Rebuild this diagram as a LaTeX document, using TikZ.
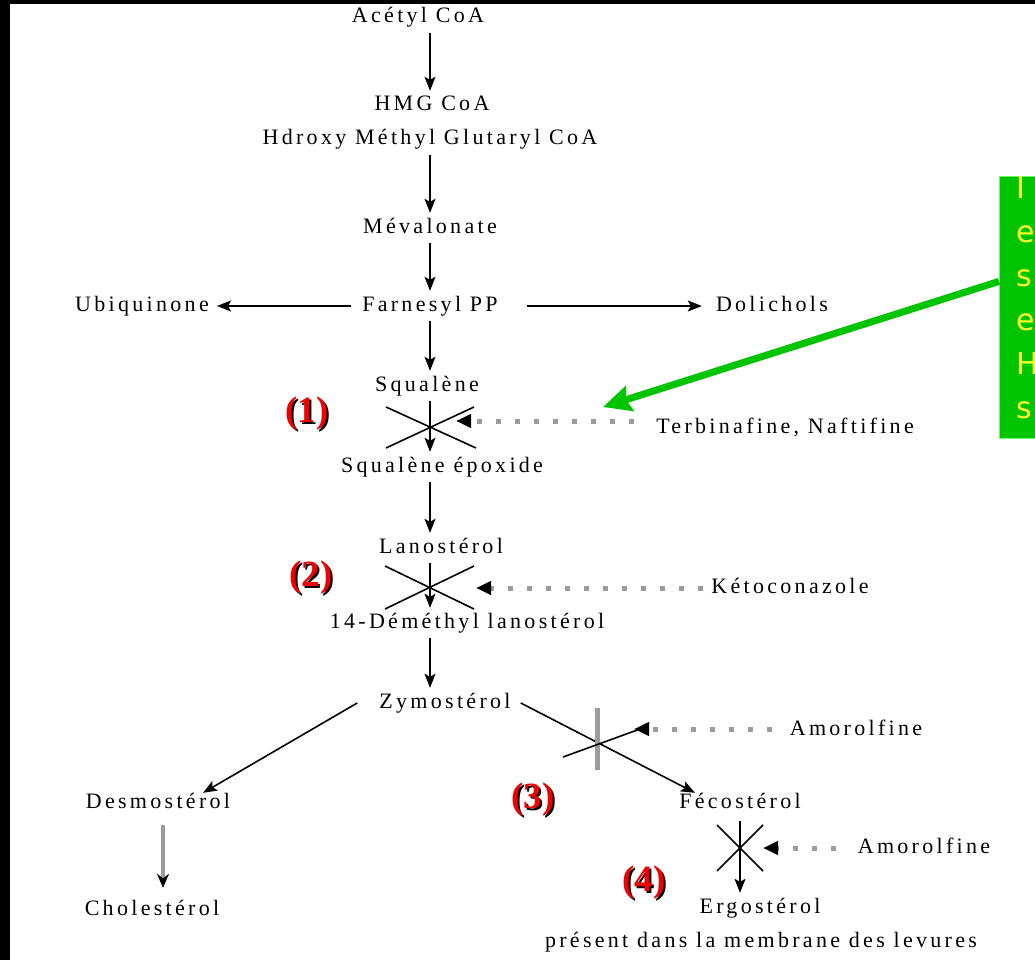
\documentclass[tikz,border=0pt]{standalone}
\usepackage{fontspec}
\setmainfont{Liberation Serif}[LetterSpace=15]
\newfontfamily\numfont{Liberation Serif}
\newfontfamily\notefont{DejaVu Sans}
\usepackage{tikz}
\usetikzlibrary{arrows.meta,positioning}
\definecolor{boxgreen}{RGB}{0,196,0}
\definecolor{numred}{RGB}{240,0,0}
\definecolor{dotgray}{RGB}{155,155,155}
\definecolor{noteyellow}{RGB}{255,255,40}

\begin{document}
\begin{tikzpicture}[x=1pt,y=-1pt,
    mol/.style={font=\fontsize{22}{25}\selectfont, inner sep=0pt, text height=15pt, text depth=5pt},
    arr/.style={line width=1.6pt, shorten <=5pt, shorten >=5pt, -{Stealth[length=14pt,width=11pt,inset=3pt]}},
    cut/.style={line width=1.6pt},
    inhib/.style={draw=dotgray, line width=5pt, dash pattern=on 5pt off 14pt, -{Triangle[length=15pt,width=13pt,color=black]}},
    grayarr/.style={draw=dotgray, line width=4pt, shorten <=12pt, shorten >=12pt, -{Stealth[length=14pt,width=12pt,color=black]}},
    num/.style={font=\numfont\bfseries\fontsize{37}{40}\selectfont, inner sep=0pt},
    notebox/.style={fill=boxgreen, draw=green!60!white, line width=0.8pt, minimum width=50pt, minimum height=262pt, inner sep=0pt},
    greenarr/.style={draw=boxgreen, line width=7pt, -{Stealth[length=28pt,width=26pt,inset=4pt]}}]
    \useasboundingbox (0,0) rectangle (1035,960);
    \clip (0,0) rectangle (1035,960);
    \fill[black] (0,0) rectangle (1035,960);
    \fill[white] (10,4) rectangle (1035,960);

    \coordinate (ax) at (430,0);
    \coordinate (fx) at (740,0);
    \coordinate (dx) at (163,0);

    % main pathway
    \node[mol] (acetyl) at (418,18) {Acétyl CoA};
    \node[mol] (hmg) at (432,106) {HMG CoA};
    \node[mol] (hydroxy) at (430,140) {Hdroxy Méthyl Glutaryl CoA};
    \node[mol] (meva) at (430,228) {Mévalonate};
    \node[mol] (farnesyl) at (430,306) {Farnesyl PP};
    \node[mol] (ubi) at (142,306) {Ubiquinone};
    \node[mol] (doli) at (772,306) {Dolichols};
    \node[mol] (squalene) at (427,386) {Squalène};
    \node[mol] (epox) at (442,467) {Squalène époxide};
    \node[mol] (lano) at (441,548) {Lanostérol};
    \node[mol] (demeth) at (467,623) {14-Déméthyl lanostérol};
    \node[mol] (zymo) at (445,703) {Zymostérol};
    \node[mol] (desmo) at (158,803) {Desmostérol};
    \node[mol] (chol) at (152,910) {Cholestérol};
    \node[mol] (feco) at (740,803) {Fécostérol};
    \node[mol] (ergo) at (760,908) {Ergostérol};
    \node[mol] (present) at (761,942) {présent dans la membrane des levures};

    % inhibitors
    \node[mol] (terbi) at (785,428) {Terbinafine, Naftifine};
    \node[mol] (keto) at (790,588) {Kétoconazole};
    \node[mol] (amoroA) at (856,730) {Amorolfine};
    \node[mol] (amoroB) at (924,848) {Amorolfine};

    \draw[arr] (acetyl.south -| ax) -- (hmg.north -| ax);
    \draw[arr] (hydroxy.south -| ax) -- (meva.north -| ax);
    \draw[arr] (meva.south -| ax) -- (farnesyl.north -| ax);
    \draw[arr, shorten <=11pt, shorten >=8pt] (farnesyl.west) -- (ubi.east);
    \draw[arr, shorten <=29pt, shorten >=14pt] (farnesyl.east) -- (doli.west);
    \draw[arr] (farnesyl.south -| ax) -- (squalene.north -| ax);
    \draw[arr] (squalene.south -| ax) -- (epox.north -| ax);
    \draw[arr] (epox.south -| ax) -- (lano.north -| ax);
    \draw[arr] (lano.south -| ax) -- (demeth.north -| ax);
    \draw[arr] (demeth.south -| ax) -- (zymo.north -| ax);
    \draw[arr, shorten <=0pt, shorten >=0pt] ([xshift=-22pt]zymo.west) -- ([xshift=45pt]desmo.north);
    \draw[arr, shorten <=0pt, shorten >=0pt] ([xshift=10pt]zymo.east) -- ([xshift=-45pt]feco.north);
    \draw[grayarr] (desmo.south -| dx) -- (chol.north -| dx);
    \draw[arr, shorten <=8pt, shorten >=5pt] (feco.south -| fx) -- (ergo.north -| fx);

    % blocked steps
    \draw[cut] (386,407) -- (476,448) (386,448) -- (474,407);
    \draw[cut] (385,566) -- (474,609) (385,609) -- (474,566);
    \draw[draw=dotgray, line width=5pt] (597,708) -- (597,770);
    \draw[cut] (563,757) -- (640,729);
    \draw[cut] (717,825) -- (763,871) (717,871) -- (763,825);

    \coordinate (hitA) at (456,421);
    \coordinate (hitB) at (476,588);
    \coordinate (hitC) at (634,729);
    \coordinate (hitD) at (763,848);
    \draw[inhib] ([xshift=-22pt]terbi.west |- hitA) -- (hitA);
    \draw[inhib] ([xshift=-8pt]keto.west |- hitB) -- (hitB);
    \draw[inhib] ([xshift=-18pt]amoroA.west |- hitC) -- (hitC);
    \draw[inhib] ([xshift=-22pt]amoroB.west |- hitD) -- (hitD);

    \node[num, black] (nAs) at (309,416) {(1)};
    \node[num, numred] (nA) at (307,414) {(1)};
    \node[num, black] (nBs) at (313,580) {(2)};
    \node[num, numred] (nB) at (311,578) {(2)};
    \node[num, black] (nCs) at (535,802) {(3)};
    \node[num, numred] (nC) at (533,800) {(3)};
    \node[num, black] (nDs) at (646,885) {(4)};
    \node[num, numred] (nD) at (644,883) {(4)};

    % note box on the right
    \node[notebox, anchor=north west] (note) at (999,176) {};
    \node[anchor=north west, inner sep=0pt, align=left, text=noteyellow,
        font=\notefont\fontsize{30}{44}\selectfont] (notetext) at (1016,176) {I\\e\\s\\e\\H\\s};
    \coordinate (gtip) at (603,407);
    \draw[greenarr] ([yshift=26pt]note.west) -- (gtip);
\end{tikzpicture}
\end{document}
